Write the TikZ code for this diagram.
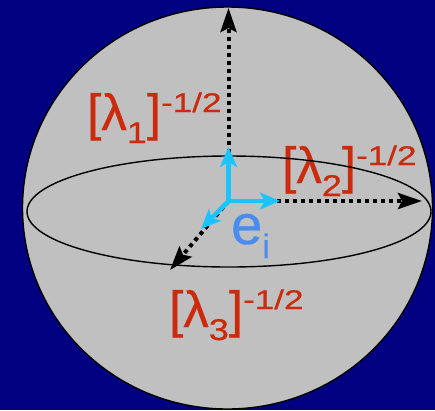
\documentclass[tikz,border=0pt]{standalone}
\usepackage{fontspec}
\setmainfont{Liberation Sans}[FakeBold=0.6]
\newfontfamily\labfont{Liberation Sans}[FakeBold=0.6]
\usetikzlibrary{arrows.meta}
\definecolor{bgnavy}{HTML}{000080}
\definecolor{spheregray}{HTML}{C0C0C0}
\definecolor{labred}{HTML}{CC2A0C}
\definecolor{vecblue}{HTML}{1CC4FF}
\definecolor{eblue}{HTML}{4A8CEE}
\newcommand{\lamlab}[1]{[λ\raisebox{-13pt}{\fontsize{30}{30}\selectfont\scalebox{1.2}[1]{#1}}]\raisebox{18pt}{\fontsize{27}{27}\selectfont\scalebox{1.3}[1]{-1/2}}}
\tikzset{
  lab/.style={text=labred, anchor=base west, inner sep=0pt, font=\labfont\fontsize{51}{51}\selectfont},
  axisarrow/.style={line width=4pt, dash pattern=on 4pt off 4pt, -{Stealth[length=24pt,width=16pt,inset=4pt]}},
  vecarrow/.style={line width=4.5pt, draw=vecblue, -{Stealth[length=20pt,width=17pt,inset=5pt]}, fill=vecblue},
}
\begin{document}
\begin{tikzpicture}[x=1pt,y=-1pt]
\fill[bgnavy] (0,0) rectangle (435,410);
\useasboundingbox (0,0) rectangle (435,410);
\filldraw[fill=spheregray, draw=black, line width=1.4pt] (227.5,208) ellipse [x radius=205pt, y radius=201pt];
% labels
\node[lab] (l1) at (87,130) {\lamlab{1}};
\node[lab] (l2) at (282,183) {\lamlab{2}};
\node[lab] (l3) at (169,327) {\lamlab{3}};
\node[text=eblue, anchor=base west, inner sep=0pt, font=\labfont\fontsize{56}{56}\selectfont] (ei) at (231,244) {e\raisebox{-14pt}{\fontsize{34}{34}\selectfont i}};
% equator
\draw[line width=1.4pt] (229,211.5) ellipse [x radius=202pt, y radius=55.5pt];
% coordinates
\coordinate (O) at (228.5,201);
\coordinate (A1) at (228.5,8);
\coordinate (A2) at (422,201);
\coordinate (A3) at (170,270);
\coordinate (V1) at (228.5,147);
\coordinate (V2) at (280,201);
\coordinate (V3) at (201,229);
% dotted axes
\draw[axisarrow] (O) -- (A1);
\draw[axisarrow] (O) -- (A2);
\draw[axisarrow] (O) -- (A3);
% basis vectors
\draw[vecarrow] (O) -- (V1);
\draw[vecarrow] (O) -- (V2);
\draw[vecarrow] (O) -- (V3);
\end{tikzpicture}
\end{document}
